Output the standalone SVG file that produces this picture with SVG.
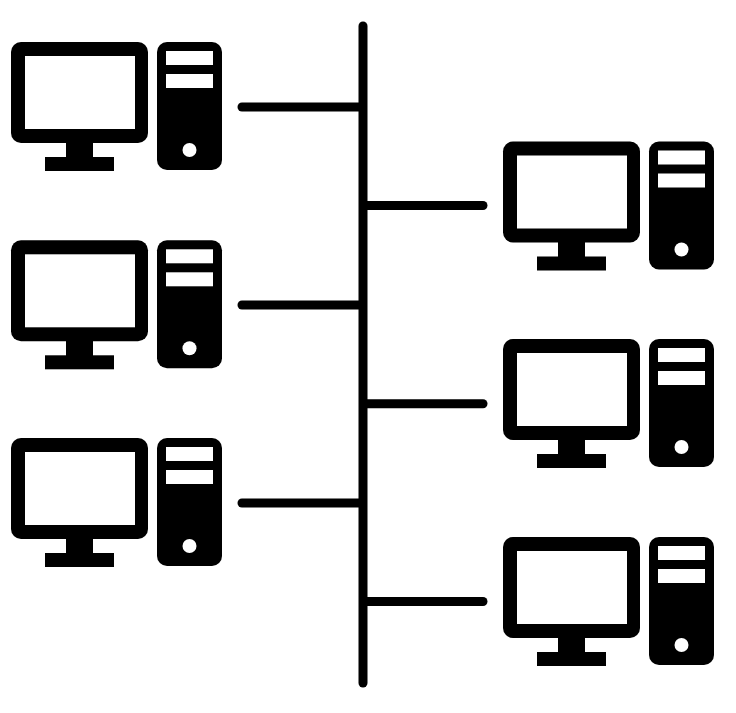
<svg xmlns="http://www.w3.org/2000/svg" width="736" height="713" viewBox="0 0 736 713">
<style>
.line{stroke:#000;stroke-width:9;stroke-linecap:round;fill:none}
.k{fill:#000}
.w{fill:#fff}
</style>
<defs>
<g id="pc">
<rect class="k" x="0" y="0" width="137" height="101" rx="10"/>
<rect class="w" x="14" y="14" width="110" height="73"/>
<rect class="k" x="55" y="100" width="27" height="16"/>
<rect class="k" x="34" y="115" width="69" height="14"/>
<rect class="k" x="146" y="0" width="65" height="128" rx="10"/>
<rect class="w" x="155" y="9" width="47" height="14"/>
<rect class="w" x="155" y="32" width="47" height="14"/>
<circle class="w" cx="178.500" cy="108" r="7"/>
</g>
</defs>
<rect width="736" height="713" fill="#fff"/>
<g id="connectors">
<path class="line" d="M363 26V683"/>
<path class="line" d="M242 107H360"/>
<path class="line" d="M242 305H360"/>
<path class="line" d="M242 503H360"/>
<path class="line" d="M366 205.500H483"/>
<path class="line" d="M366 403.700H483"/>
<path class="line" d="M366 601.500H483"/>
</g>
<g id="pc-left-1"><use href="#pc" x="11" y="42"/></g>
<g id="pc-left-2"><use href="#pc" x="11" y="240.300"/></g>
<g id="pc-left-3"><use href="#pc" x="11" y="438"/></g>
<g id="pc-right-1"><use href="#pc" x="503" y="141.500"/></g>
<g id="pc-right-2"><use href="#pc" x="503" y="339"/></g>
<g id="pc-right-3"><use href="#pc" x="503" y="537"/></g>
</svg>
